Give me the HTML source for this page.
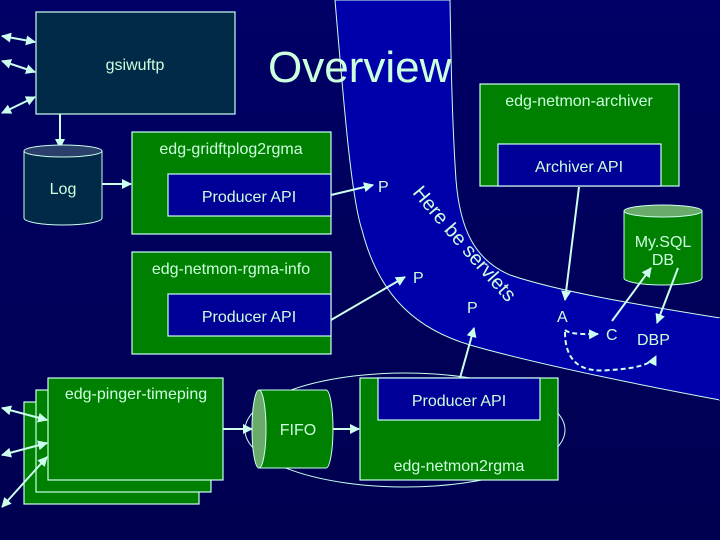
<!DOCTYPE html>
<html><head><meta charset="utf-8"><style>
html,body{margin:0;padding:0;background:#000060;}
svg{display:block;}
text{font-family:"Liberation Sans",sans-serif;fill:#ccffdd;}
</style></head><body>
<svg width="720" height="540" viewBox="0 0 720 540" xmlns="http://www.w3.org/2000/svg">
<defs>
<linearGradient id="bg" x1="0" y1="0" x2="0" y2="1">
<stop offset="0" stop-color="#000066"/><stop offset="1" stop-color="#000050"/>
</linearGradient>
<marker id="ah" viewBox="0 0 10 10" refX="9" refY="5" markerWidth="5" markerHeight="5" orient="auto-start-reverse">
<path d="M0,0 L10,5 L0,10 z" fill="#ccffee"/></marker>
</defs>
<rect width="720" height="540" fill="url(#bg)"/>
<!-- band -->
<path d="M335,0 C345,120 352,200 362,230 C380,300 420,330 470,345 C540,365 640,385 720,400 L720,318 C640,305 560,292 510,275 C475,260 460,230 456,180 C452,120 451,60 450,0 Z" fill="#0000aa" stroke="#ccffee" stroke-width="1"/>
<path d="M720,318 L720,400" stroke="#0000aa" stroke-width="2"/>
<text x="268" y="82" font-size="44">Overview</text>
<!-- gsiwuftp -->
<rect x="36" y="12" width="199" height="102" fill="#002a48" stroke="#ccffee" stroke-width="1.2"/>
<text x="135" y="70" font-size="16" text-anchor="middle">gsiwuftp</text>
<line x1="2" y1="36" x2="35" y2="42" stroke="#ccffee" stroke-width="2" marker-start="url(#ah)" marker-end="url(#ah)"/>
<line x1="2" y1="61" x2="35" y2="72" stroke="#ccffee" stroke-width="2" marker-start="url(#ah)" marker-end="url(#ah)"/>
<line x1="2" y1="113" x2="35" y2="97" stroke="#ccffee" stroke-width="2" marker-start="url(#ah)" marker-end="url(#ah)"/>
<line x1="60" y1="114" x2="60" y2="148" stroke="#ccffee" stroke-width="2" marker-end="url(#ah)"/>
<!-- Log -->
<path d="M24,151 L24,218 A39,7 0 0 0 102,218 L102,151" fill="#002a48" stroke="#ccffee" stroke-width="1"/>
<ellipse cx="63" cy="151" rx="39" ry="6" fill="#2a3f6a" stroke="#ccffee" stroke-width="1"/>
<text x="63" y="194" font-size="16" text-anchor="middle">Log</text>
<line x1="102" y1="184" x2="131" y2="184" stroke="#ccffee" stroke-width="2" marker-end="url(#ah)"/>
<!-- gridftplog2rgma -->
<rect x="132" y="132" width="199" height="102" fill="#008000" stroke="#ccffee" stroke-width="1.2"/>
<text x="231" y="154" font-size="16" text-anchor="middle">edg-gridftplog2rgma</text>
<rect x="168" y="174" width="163" height="42" fill="#000099" stroke="#ccffee" stroke-width="1.2"/>
<text x="249" y="202" font-size="16" text-anchor="middle">Producer API</text>
<line x1="331" y1="195" x2="373" y2="185" stroke="#ccffee" stroke-width="2" marker-end="url(#ah)"/>
<text x="378" y="192" font-size="16">P</text>
<!-- netmon-rgma-info -->
<rect x="132" y="252" width="199" height="102" fill="#008000" stroke="#ccffee" stroke-width="1.2"/>
<text x="231" y="274" font-size="16" text-anchor="middle">edg-netmon-rgma-info</text>
<rect x="168" y="294" width="163" height="42" fill="#000099" stroke="#ccffee" stroke-width="1.2"/>
<text x="249" y="322" font-size="16" text-anchor="middle">Producer API</text>
<line x1="331" y1="320" x2="405" y2="277" stroke="#ccffee" stroke-width="2" marker-end="url(#ah)"/>
<text x="413" y="283" font-size="16">P</text>
<text x="467" y="313" font-size="16">P</text>
<!-- servlets text -->
<path id="tp" d="M412,193 Q455,245 505,300" fill="none"/>
<text font-size="20"><textPath href="#tp">Here be servlets</textPath></text>
<!-- archiver -->
<rect x="480" y="84" width="199" height="102" fill="#008000" stroke="#ccffee" stroke-width="1.2"/>
<text x="579" y="106" font-size="16" text-anchor="middle">edg-netmon-archiver</text>
<rect x="498" y="144" width="163" height="42" fill="#000099" stroke="#ccffee" stroke-width="1.2"/>
<text x="579" y="172" font-size="16" text-anchor="middle">Archiver API</text>
<line x1="579" y1="187" x2="565" y2="300" stroke="#ccffee" stroke-width="2" marker-end="url(#ah)"/>
<text x="557" y="322" font-size="16">A</text>
<!-- MySQL -->
<path d="M624,211 L624,278 A39,7 0 0 0 702,278 L702,211" fill="#008000" stroke="#ccffee" stroke-width="1"/>
<ellipse cx="663" cy="211" rx="39" ry="6" fill="#6aaa6a" stroke="#ccffee" stroke-width="1"/>
<text x="663" y="247" font-size="16" text-anchor="middle">My.SQL</text>
<text x="663" y="265" font-size="16" text-anchor="middle">DB</text>
<line x1="612" y1="321" x2="651" y2="268" stroke="#ccffee" stroke-width="2" marker-end="url(#ah)"/>
<line x1="678" y1="268" x2="657" y2="323" stroke="#ccffee" stroke-width="2" marker-end="url(#ah)"/>
<text x="606" y="340" font-size="16">C</text>
<text x="637" y="345" font-size="16">DBP</text>
<path d="M565,330 Q570,335 598,334" fill="none" stroke="#ccffee" stroke-width="2" stroke-dasharray="5,3" marker-end="url(#ah)"/>
<path d="M565,332 Q565,375 610,370 Q650,368 656,356" fill="none" stroke="#ccffee" stroke-width="2" stroke-dasharray="5,3" marker-end="url(#ah)"/>
<!-- enclosing ellipse -->
<ellipse cx="405" cy="430" rx="160" ry="57" fill="none" stroke="#ccffee" stroke-width="1"/>
<!-- pinger -->
<rect x="24" y="402" width="175" height="102" fill="#008000" stroke="#ccffee" stroke-width="1.2"/>
<rect x="36" y="390" width="175" height="102" fill="#008000" stroke="#ccffee" stroke-width="1.2"/>
<rect x="48" y="378" width="175" height="102" fill="#008000" stroke="#ccffee" stroke-width="1.2"/>
<text x="136" y="399" font-size="16" text-anchor="middle">edg-pinger-timeping</text>
<line x1="2" y1="408" x2="47" y2="420" stroke="#ccffee" stroke-width="2" marker-start="url(#ah)" marker-end="url(#ah)"/>
<line x1="2" y1="455" x2="47" y2="443" stroke="#ccffee" stroke-width="2" marker-start="url(#ah)" marker-end="url(#ah)"/>
<line x1="2" y1="507" x2="47" y2="457" stroke="#ccffee" stroke-width="2" marker-start="url(#ah)" marker-end="url(#ah)"/>
<line x1="223" y1="429" x2="252" y2="429" stroke="#ccffee" stroke-width="2" marker-end="url(#ah)"/>
<!-- FIFO -->
<path d="M259,390 L326,390 A7,39 0 0 1 326,468 L259,468 Z" fill="#008000" stroke="#ccffee" stroke-width="1"/>
<ellipse cx="259" cy="429" rx="7" ry="39" fill="#6aaa6a" stroke="#ccffee" stroke-width="1"/>
<text x="298" y="435" font-size="16" text-anchor="middle">FIFO</text>
<line x1="333" y1="429" x2="359" y2="429" stroke="#ccffee" stroke-width="2" marker-end="url(#ah)"/>
<!-- netmon2rgma -->
<rect x="360" y="378" width="198" height="102" fill="#008000" stroke="#ccffee" stroke-width="1.2"/>
<rect x="378" y="378" width="162" height="42" fill="#000099" stroke="#ccffee" stroke-width="1.2"/>
<text x="459" y="406" font-size="16" text-anchor="middle">Producer API</text>
<text x="459" y="471" font-size="16" text-anchor="middle">edg-netmon2rgma</text>
<line x1="460" y1="378" x2="474" y2="328" stroke="#ccffee" stroke-width="2" marker-end="url(#ah)"/>
</svg>
</body></html>
